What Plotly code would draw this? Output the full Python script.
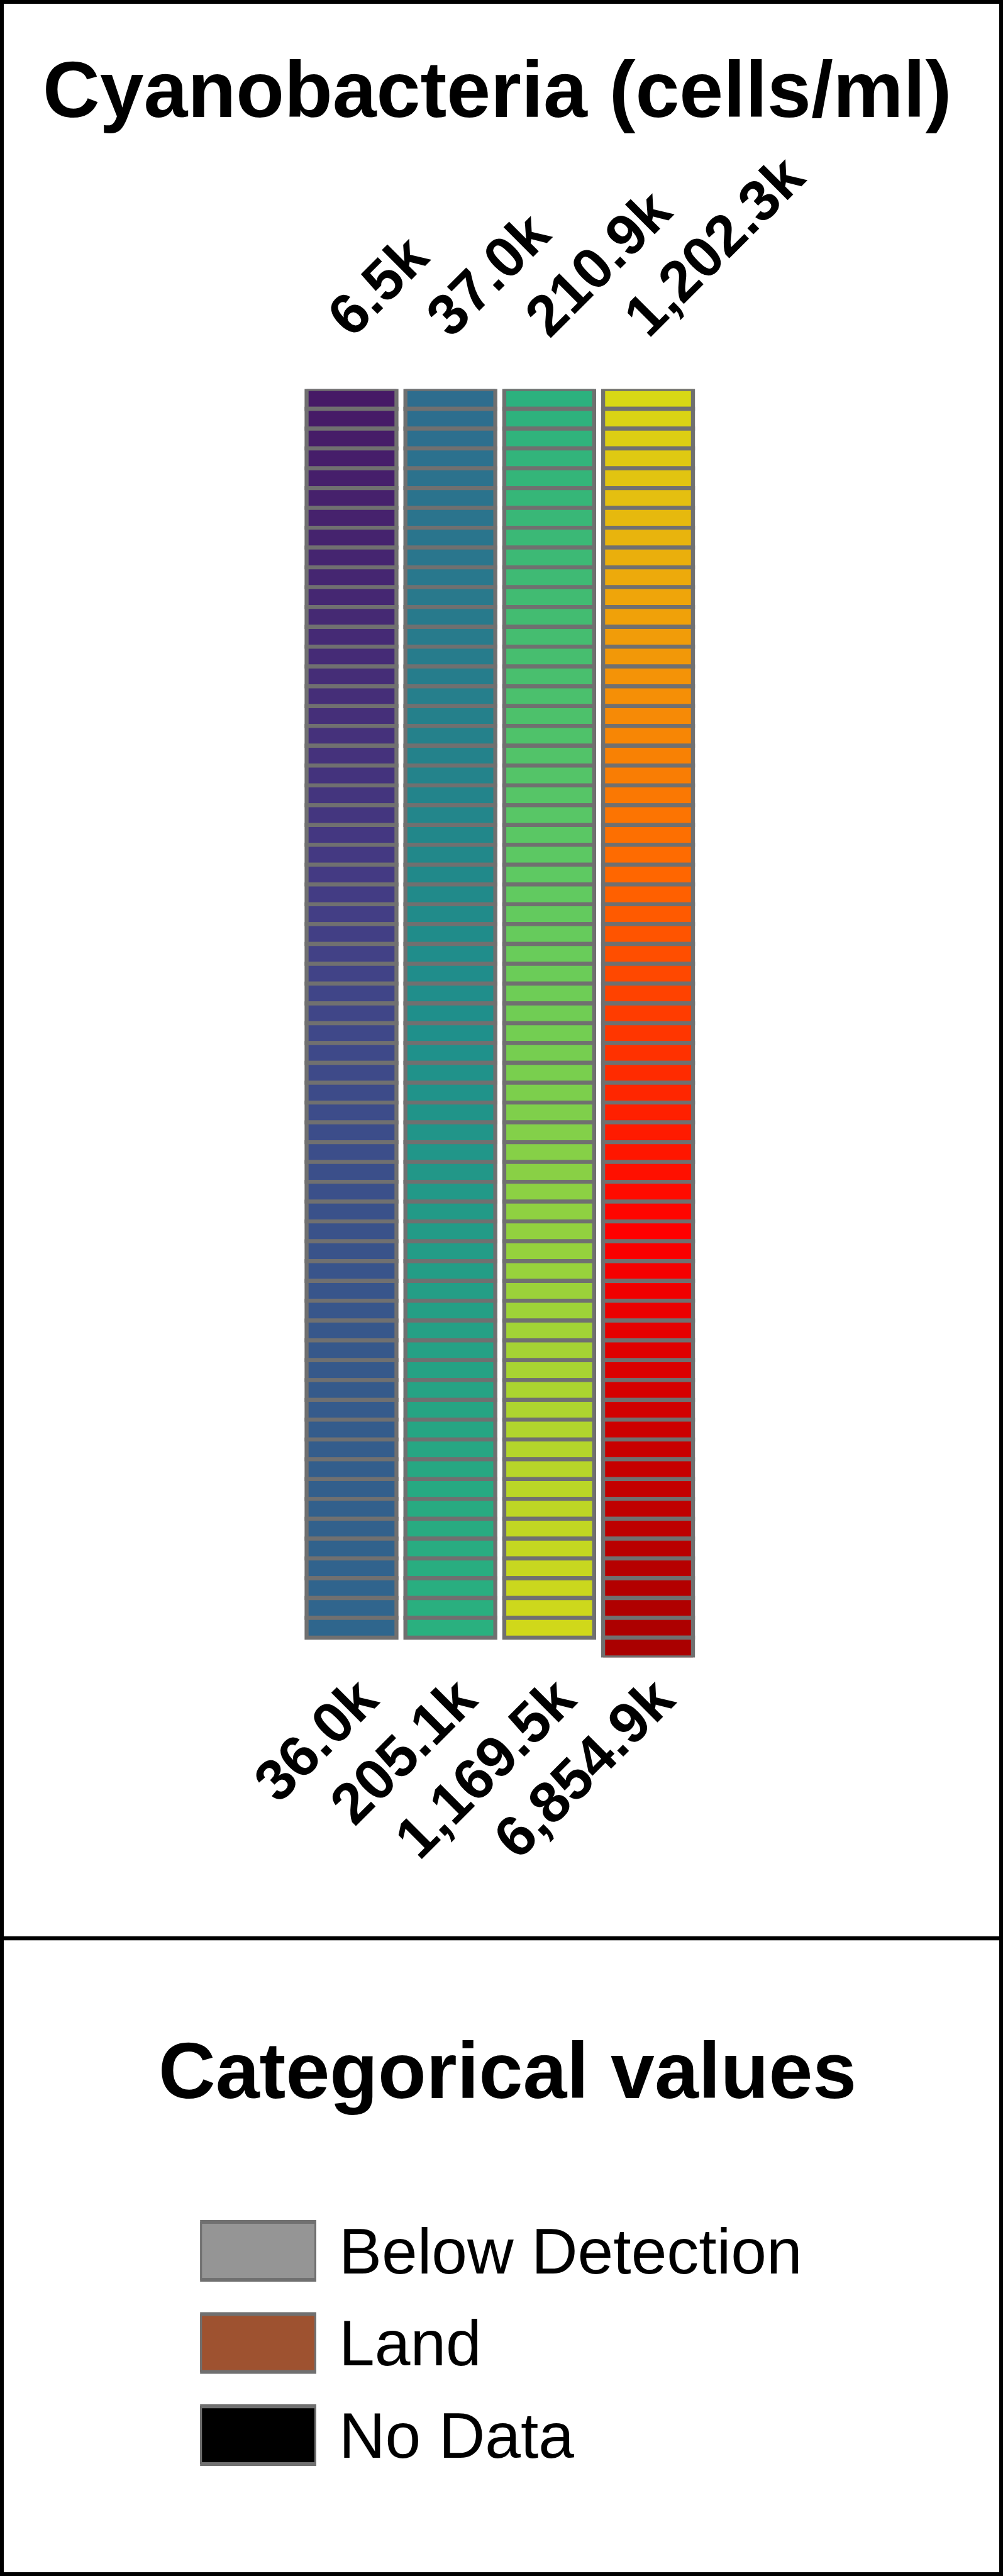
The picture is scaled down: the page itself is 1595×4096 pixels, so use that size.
import plotly.graph_objects as go

# ---------------- data ----------------
TITLE = "Cyanobacteria (cells/ml)"
LEGEND_TITLE = "Categorical values"

# value at the top / bottom of each colour column (cells/ml)
TOP_LABELS = ["6.5k", "37.0k", "210.9k", "1,202.3k"]
BOTTOM_LABELS = ["36.0k", "205.1k", "1,169.5k", "6,854.9k"]

# number of colour classes stacked in each column
CELLS_PER_COLUMN = [63, 63, 63, 64]

# colour of a few classes (class index -> colour)
COLOR_STOP_CLASS = [0, 24, 32, 62,
                    63, 87, 95, 125,
                    126, 150, 158, 188,
                    189, 199, 213, 221, 231, 241, 252]
COLOR_STOP_HEX = ["#461A66", "#443A83", "#3F4889", "#2F668D",
                  "#2E6D8E", "#21898A", "#1F908B", "#2AB07F",
                  "#2CB17E", "#5EC962", "#73CE52", "#D0D81A",
                  "#D8D815", "#EFA50A", "#FF6600", "#FF3600", "#FF0000", "#CC0000", "#AA0000"]

CATEGORY_LABELS = ["Below Detection", "Land", "No Data"]
CATEGORY_COLORS = ["#959595", "#9E5230", "#000000"]

# ---------------- geometry (reference pixels -> output) ----------------
REF_W, REF_H = 1752, 4500
W, H = 1595, 4096
S = W / REF_W


def fx(x):
    return x / REF_W


def fy(y):
    return 1 - y / REF_H


FONT = "Liberation Sans, Arial, Helvetica, sans-serif"
OUTLINE = "#707070"

# build the stacked classes
col_x, row_base, class_id = [], [], []
k = 0
for c, n in enumerate(CELLS_PER_COLUMN):
    for r in range(n):
        col_x.append(c)
        row_base.append(r)
        class_id.append(k)
        k += 1
n_classes = k
max_rows = max(CELLS_PER_COLUMN)

colorscale = [[ci / (n_classes - 1), hx] for ci, hx in zip(COLOR_STOP_CLASS, COLOR_STOP_HEX)]

fig = go.Figure()

fig.add_trace(go.Bar(
    x=col_x,
    y=[1] * n_classes,
    base=row_base,
    width=157 / 172.67,
    marker=dict(color=class_id, colorscale=colorscale, cmin=0, cmax=n_classes - 1,
                line=dict(color=OUTLINE, width=7 * S)),
    hoverinfo="skip",
    xaxis="x", yaxis="y",
))

# invisible trace to activate the top axis
fig.add_trace(go.Scatter(
    x=[0, len(CELLS_PER_COLUMN) - 1], y=[0, 0], mode="markers",
    marker=dict(opacity=0), hoverinfo="skip", xaxis="x2", yaxis="y",
))

# categorical swatches
fig.add_trace(go.Bar(
    orientation="h",
    y=list(range(len(CATEGORY_LABELS))),
    x=[1] * len(CATEGORY_LABELS),
    base=[0] * len(CATEGORY_LABELS),
    width=101 / 161,
    marker=dict(color=CATEGORY_COLORS, line=dict(color=OUTLINE, width=6.7 * S)),
    hoverinfo="skip",
    xaxis="x3", yaxis="y3",
))

ncol = len(CELLS_PER_COLUMN)
tick_font = dict(family=FONT, size=101 * S, color="black", weight="bold")

fig.update_layout(
    width=W, height=H,
    autosize=False,
    margin=dict(l=0, r=0, t=0, b=0, pad=0, autoexpand=False),
    paper_bgcolor="white", plot_bgcolor="white",
    showlegend=False,
    barmode="overlay",
    xaxis=dict(domain=[fx(527.7), fx(1218.3)], range=[-0.5, ncol - 0.5],
               tickvals=list(range(ncol)), ticktext=BOTTOM_LABELS, tickangle=-45,
               tickfont=tick_font, showgrid=False, zeroline=False, showline=False,
               ticks="", ticklabelstandoff=-8, ticklabelshift=14, anchor="y",
               fixedrange=True, automargin=False),
    xaxis2=dict(overlaying="x", side="top", range=[-0.5, ncol - 0.5],
                tickvals=list(range(ncol)), ticktext=TOP_LABELS, tickangle=-45,
                tickfont=tick_font, showgrid=False, zeroline=False, showline=False,
                ticks="", ticklabelstandoff=46, ticklabelshift=-32, anchor="y",
                fixedrange=True, automargin=False),
    yaxis=dict(domain=[fy(2895.5), fy(679.5)], range=[max_rows, 0],
               visible=False, fixedrange=True, automargin=False),
    xaxis3=dict(domain=[fx(349.5), fx(552.5)], range=[0, 1], visible=False,
                anchor="y3", fixedrange=True, automargin=False),
    yaxis3=dict(domain=[fy(4334.5), fy(3851.5)], range=[len(CATEGORY_LABELS) - 0.5, -0.5],
                anchor="x3", side="right", tickvals=list(range(len(CATEGORY_LABELS))),
                ticktext=CATEGORY_LABELS, ticks="", showgrid=False, zeroline=False,
                showline=False, ticklabelstandoff=int(round(38 * S)),
                tickfont=dict(family=FONT, size=112 * S, color="black"), fixedrange=True,
                automargin=False),
    annotations=[
        dict(text=TITLE, xref="paper", yref="paper", x=fx(868), y=fy(157),
             xanchor="center", yanchor="middle", showarrow=False,
             font=dict(family=FONT, size=138 * S, color="black", weight="bold")),
        dict(text=LEGEND_TITLE, xref="paper", yref="paper", x=fx(886), y=fy(3617),
             xanchor="center", yanchor="middle", showarrow=False,
             font=dict(family=FONT, size=138 * S, color="black", weight="bold")),
    ],
    shapes=[
        dict(type="rect", xref="paper", yref="paper",
             x0=3 / W, x1=1 - 3 / W, y0=3 / H, y1=1 - 3 / H,
             line=dict(color="black", width=6), fillcolor="rgba(0,0,0,0)"),
        dict(type="line", xref="paper", yref="paper",
             x0=0, x1=1, y0=fy(3386), y1=fy(3386),
             line=dict(color="black", width=7 * S)),
    ],
)

fig.write_html("out.html")
